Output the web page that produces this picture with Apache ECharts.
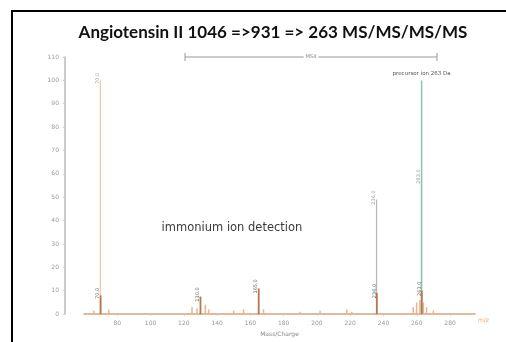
<!DOCTYPE html>
<html>
<head>
<meta charset="utf-8">
<script src="https://cdn.jsdelivr.net/npm/echarts@6/dist/echarts.min.js"></script>
<style>
  html, body { margin: 0; padding: 0; background: #fff; }
  #chart { width: 506px; height: 342px; }
</style>
</head>
<body>
<div id="chart"></div>
<script>
// MS4 spectrum of angiotensin II: m/z vs relative abundance (%)
const prolinePeak = [[70, 100]];                 // Pro immonium stick
const fragmentPeaks = [[236, 49]];               // a-type fragment
const precursorPeak = [[263, 100]];              // isolated precursor
const overlayPeaks = [[263, 58]];                // overlaid scan at precursor
const immoniumPeaks = [[70, 8], [130, 7.5], [165, 11], [236, 9], [263, 10]];
const noisePeaks = [
  [66, 1.5], [75, 2], [125, 3], [128, 2.5], [133, 4], [135, 2], [150, 1.5],
  [156, 2], [168, 2], [190, 1], [202, 1.5], [218, 2], [221, 1],
  [258, 3], [260, 5], [262, 6], [264, 5], [266, 3], [270, 1.5]
];

const chart = echarts.init(document.getElementById('chart'), null, { renderer: 'canvas' });

const stickLabel = (color) => ({
  show: true,
  position: 'top',
  rotate: 90,
  distance: 2,
  fontSize: 5,
  fontFamily: 'DejaVu Sans',
  color: color,
  formatter: (p) => p.value[0].toFixed(1)
});

const stick = (name, data, color, labelColor, width) => ({
  name: name,
  type: 'bar',
  data: data,
  barWidth: width,
  barGap: '-100%',
  itemStyle: { color: color },
  label: labelColor ? stickLabel(labelColor) : { show: false },
  silent: true,
  animation: false
});

chart.setOption({
  backgroundColor: '#fff',
  animation: false,
  grid: { left: 84, right: 31, top: 57, bottom: 24, containLabel: false },
  xAxis: {
    type: 'value',
    min: 60,
    max: 295,
    interval: 20,
    name: 'Mass/Charge',
    nameLocation: 'middle',
    nameGap: 16,
    nameTextStyle: { fontSize: 6, color: '#888', fontFamily: 'DejaVu Sans' },
    axisLine: { show: true, lineStyle: { color: '#d9a27c', width: 1.5 } },
    axisTick: { show: true, length: 2, lineStyle: { color: '#ccc' } },
    axisLabel: { fontSize: 6, color: '#999', margin: 6, showMinLabel: false, showMaxLabel: false,
      fontFamily: 'DejaVu Sans' },
    splitLine: { show: false }
  },
  yAxis: {
    type: 'value',
    min: 0,
    max: 110,
    interval: 10,
    offset: 19,
    axisLine: { show: true, lineStyle: { color: '#bbb', width: 1.5 } },
    axisTick: { show: true, length: 2, lineStyle: { color: '#ccc' } },
    axisLabel: { fontSize: 6, color: '#999', margin: 6, fontFamily: 'DejaVu Sans' },
    splitLine: { show: false }
  },
  series: [
    stick('noise', noisePeaks, '#e9b48c', null, 1.5),
    stick('proline', prolinePeak, '#ecc6a4', '#999', 1.2),
    stick('fragment', fragmentPeaks, '#b5b5b5', '#999', 1.2),
    stick('overlay', overlayPeaks, '#a9ccc4', '#999', 1.2),
    Object.assign(stick('precursor', precursorPeak, '#8fc2b6', null, 1.5), {
      label: {
        show: true, position: 'top', distance: 4, fontSize: 5.5,
        fontFamily: 'DejaVu Sans', color: '#555',
        formatter: 'precursor ion 263 Da'
      }
    }),
    stick('immonium', immoniumPeaks, '#b8764a', '#666', 1.8)
  ],
  graphic: [
    // slide frame
    { type: 'rect', shape: { x: 12, y: 11, width: 520, height: 360 },
      style: { fill: 'none', stroke: '#000', lineWidth: 2 }, silent: true },
    { type: 'text', x: 273, y: 33,
      style: { text: 'Angiotensin II 1046 =>931 => 263 MS/MS/MS/MS', fontSize: 17, fontWeight: 'bold',
        fontFamily: 'Lato', fill: '#111', textAlign: 'center', textVerticalAlign: 'middle' } },
    // isolation window bracket
    { type: 'line', shape: { x1: 185, y1: 57, x2: 437, y2: 57 }, style: { stroke: '#999', lineWidth: 1 } },
    { type: 'line', shape: { x1: 185, y1: 53, x2: 185, y2: 61 }, style: { stroke: '#999', lineWidth: 1 } },
    { type: 'line', shape: { x1: 437, y1: 53, x2: 437, y2: 61 }, style: { stroke: '#999', lineWidth: 1 } },
    { type: 'text', x: 311, y: 57,
      style: { text: 'MS4', fontSize: 5, fontFamily: 'DejaVu Sans', fill: '#888', textAlign: 'center',
        textVerticalAlign: 'middle', backgroundColor: '#fff', padding: [0, 2] } },
    { type: 'text', x: 232, y: 228,
      style: { text: 'immonium ion detection', fontSize: 11.5, fontFamily: 'DejaVu Sans', fill: '#3a3a3a',
        textAlign: 'center', textVerticalAlign: 'middle' } },
    { type: 'text', x: 478, y: 320,
      style: { text: 'm/z', fontSize: 6, fontFamily: 'DejaVu Sans', fill: '#e4a878',
        textAlign: 'left', textVerticalAlign: 'middle' } }
  ]
});
</script>
</body>
</html>
